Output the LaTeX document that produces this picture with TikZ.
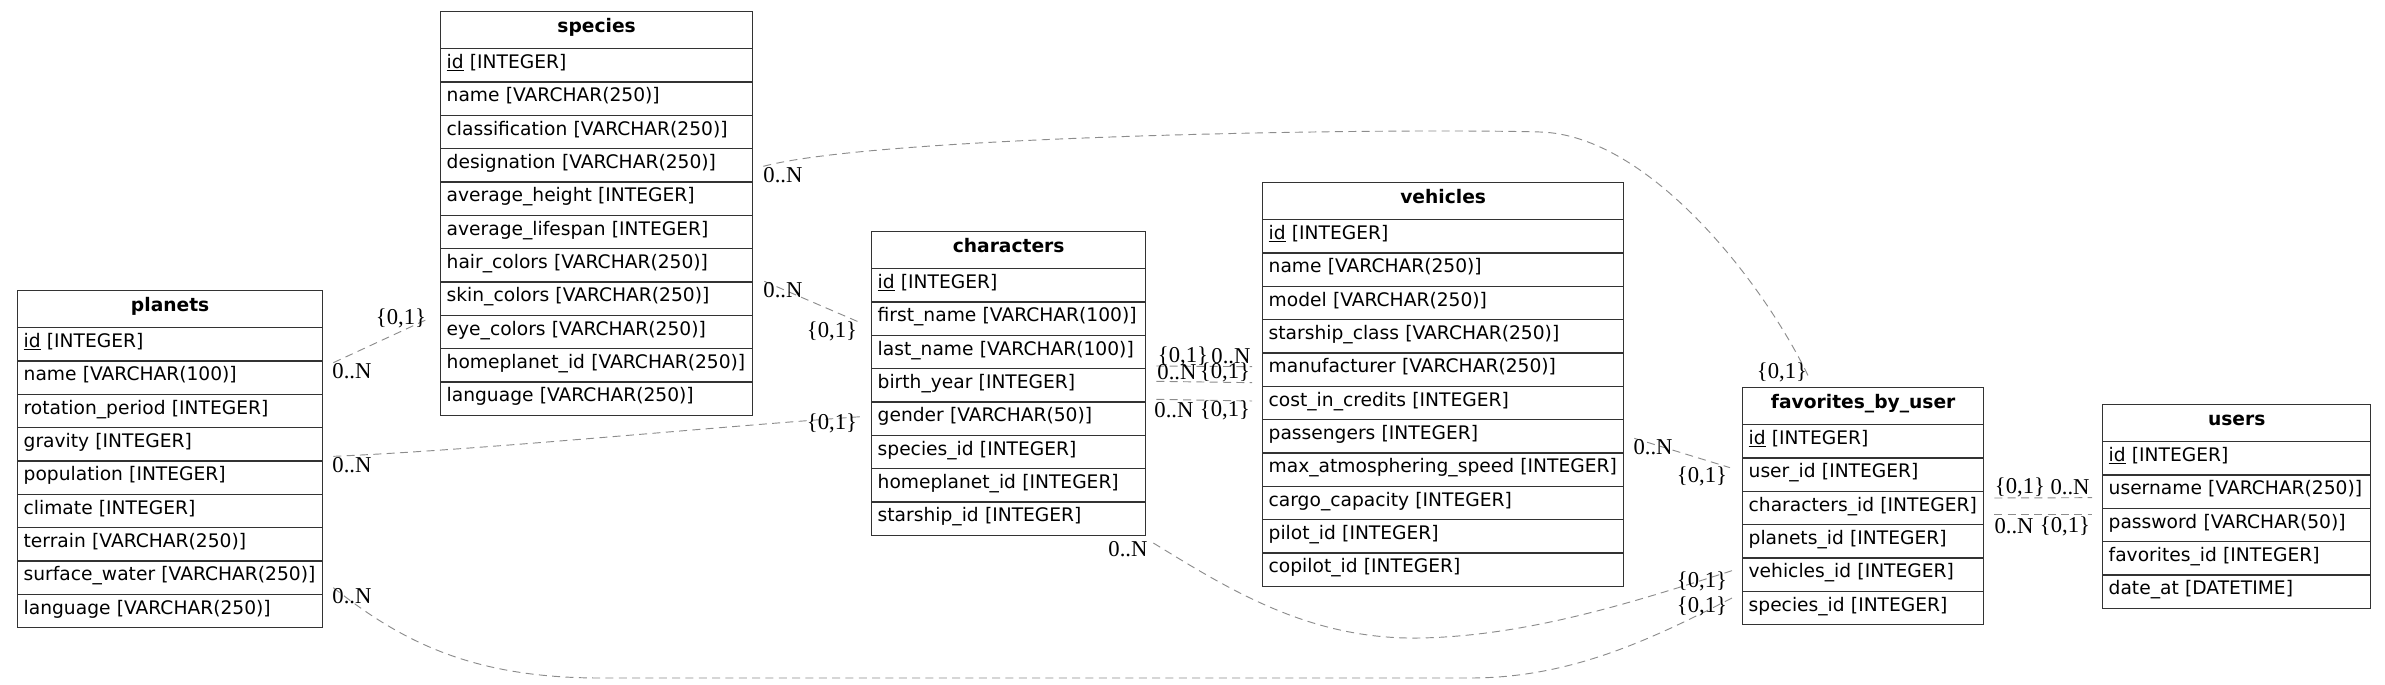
\documentclass[tikz,border=0pt]{standalone}
\usepackage{fontspec}
\setmainfont{Liberation Serif}
\setsansfont{DejaVu Sans}
\usetikzlibrary{calc}

\tikzset{
  tabhead/.style={draw=black!80, line width=1pt, anchor=north west, minimum height=27.75pt, inner xsep=4.5pt, inner ysep=0pt, text height=10.5pt, text depth=7pt, align=center, font=\sffamily\bfseries\fontsize{14}{16}\selectfont},
  tabrow/.style={draw=black!80, line width=1pt, anchor=north west, minimum height=25pt, inner xsep=4.5pt, inner ysep=0pt, text height=10.5pt, text depth=6pt, align=left, font=\sffamily\fontsize{14}{16}\selectfont},
  rel/.style={draw=black!45, line width=0.7pt, dash pattern=on 6pt off 4pt},
  card/.style={inner sep=0pt, font=\fontsize{17}{19}\selectfont},
}

% table: name, x, y, text width, title, rows
\newcommand\ertable[6]{%
  \node[tabhead, text width=#4] (#1) at (#2,#3) {#5};
  \foreach \txt [count=\i] in {#6}
    \node[tabrow, text width=#4] (#1-\i) at (#2,{#3+37+(\i-1)*33.333}) {\txt};
}

\begin{document}
\begin{tikzpicture}[x=0.75pt, y=-0.75pt]
\useasboundingbox (0,0) rectangle (2385,685);

\ertable{planets}{17}{290}{219.75pt}{planets}{\underline{id} [INTEGER], name [VARCHAR(100)], rotation\_period [INTEGER], gravity [INTEGER], population [INTEGER], climate [INTEGER], terrain [VARCHAR(250)], surface\_water [VARCHAR(250)], language [VARCHAR(250)]}
\ertable{species}{440}{11}{225pt}{species}{\underline{id} [INTEGER], name [VARCHAR(250)], classification [VARCHAR(250)], designation [VARCHAR(250)], average\_height [INTEGER], average\_lifespan [INTEGER], hair\_colors [VARCHAR(250)], skin\_colors [VARCHAR(250)], eye\_colors [VARCHAR(250)], homeplanet\_id [VARCHAR(250)], language [VARCHAR(250)]}
\ertable{characters}{871}{231}{196.5pt}{characters}{\underline{id} [INTEGER], first\_name [VARCHAR(100)], last\_name [VARCHAR(100)], birth\_year [INTEGER], gender [VARCHAR(50)], species\_id [INTEGER], homeplanet\_id [INTEGER], starship\_id [INTEGER]}
\ertable{vehicles}{1262}{182}{261.75pt}{vehicles}{\underline{id} [INTEGER], name [VARCHAR(250)], model [VARCHAR(250)], starship\_class [VARCHAR(250)], manufacturer [VARCHAR(250)], cost\_in\_credits [INTEGER], passengers [INTEGER], max\_atmosphering\_speed [INTEGER], cargo\_capacity [INTEGER], pilot\_id [INTEGER], copilot\_id [INTEGER]}
\ertable{favorites}{1742}{387}{171.75pt}{favorites\_by\_user}{\underline{id} [INTEGER], user\_id [INTEGER], characters\_id [INTEGER], planets\_id [INTEGER], vehicles\_id [INTEGER], species\_id [INTEGER]}
\ertable{users}{2102}{404}{192pt}{users}{\underline{id} [INTEGER], username [VARCHAR(250)], password [VARCHAR(50)], favorites\_id [INTEGER], date\_at [DATETIME]}

% planets -- species
\draw[rel] ($(planets-2.east)+(10,-15)$) -- ($(species-9.west)+(-10,-14)$);
\node[card] (a1) at (352,371) {0..N};
\node[card] (a2) at (401,318) {\{0,1\}};

% planets -- characters
\draw[rel] ($(planets-4.east)+(10,12)$) .. controls (480,450) and (700,428) .. ($(characters-5.west)+(-10,-2)$);
\node[card] (b1) at (352,465) {0..N};
\node[card] (b2) at (832,423) {\{0,1\}};

% species -- characters
\draw[rel] ($(species-7.east)+(11,16)$) -- ($(characters-2.west)+(-13,3)$);
\node[card] (c1) at (783,290) {0..N};
\node[card] (c2) at (832,331) {\{0,1\}};

% species -- favorites_by_user
\draw[rel] ($(species-4.east)+(10,1)$) .. controls (880,135) and (1400,128) .. (1540,132) .. controls (1650,135) and (1765,285) .. ($(favorites.north)+(-54,-9)$);
\node[card] (d1) at (783,175) {0..N};
\node[card] (d2) at (1782,372) {\{0,1\}};

% characters -- vehicles
\draw[rel] ($(characters-3.east)+(10,14)$) -- ($(vehicles-5.west)+(-10,-3)$);
\node[card] (e1) at (1183,356) {\{0,1\}};
\node[card] (e2) at (1231,356) {0..N};
\draw[rel] ($(characters-4.east)+(10,-4)$) -- ($(vehicles-5.west)+(-10,13)$);
\node[card] (e3) at (1177,372) {0..N};
\node[card] (e4) at (1225,372) {\{0,1\}};
\draw[rel] ($(characters-4.east)+(10,14)$) -- ($(vehicles-6.west)+(-10,-2)$);
\node[card] (e5) at (1174,410) {0..N};
\node[card] (e6) at (1225,410) {\{0,1\}};

% characters -- favorites_by_user
\draw[rel] ($(characters-8.south east)+(7,7)$) .. controls (1230,590) and (1310,640) .. (1420,638) .. controls (1530,636) and (1640,600) .. ($(favorites-5.west)+(-10,-4)$);
\node[card] (f1) at (1128,549) {0..N};
\node[card] (f2) at (1702,581) {\{0,1\}};

% planets -- favorites_by_user
\draw[rel] ($(planets-8.east)+(10,10)$) .. controls (400,640) and (470,678) .. (600,678) -- (1470,678) .. controls (1570,678) and (1650,640) .. ($(favorites-6.west)+(-10,-10)$);
\node[card] (g1) at (352,596) {0..N};
\node[card] (g2) at (1702,606) {\{0,1\}};

% vehicles -- favorites_by_user
\draw[rel] ($(vehicles-7.east)+(10,2)$) -- ($(favorites-2.west)+(-12,-7)$);
\node[card] (h1) at (1653,447) {0..N};
\node[card] (h2) at (1702,476) {\{0,1\}};

% favorites_by_user -- users
\draw[rel] ($(favorites-3.east)+(10,-10)$) -- ($(users-2.west)+(-10,6)$);
\node[card] (i1) at (2020,487) {\{0,1\}};
\node[card] (i2) at (2070,487) {0..N};
\draw[rel] ($(favorites-3.east)+(10,6)$) -- ($(users-3.west)+(-10,-11)$);
\node[card] (i3) at (2014,526) {0..N};
\node[card] (i4) at (2065,526) {\{0,1\}};
\end{tikzpicture}
\end{document}
